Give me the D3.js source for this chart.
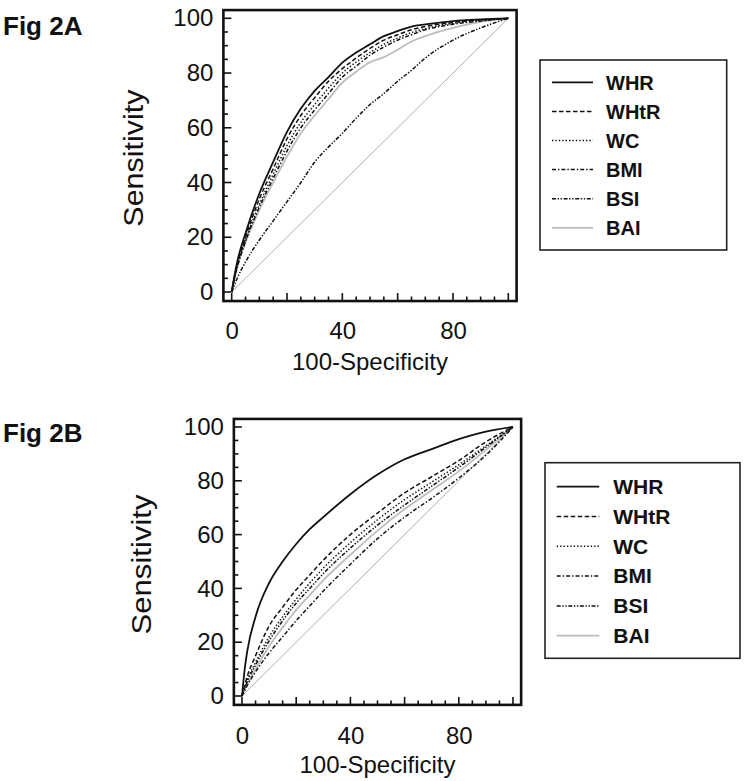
<!DOCTYPE html>
<html>
<head>
<meta charset="utf-8">
<script src="https://cdn.jsdelivr.net/npm/d3@7"></script>
<style>
  html, body { margin: 0; padding: 0; background: #fff; }
  svg { display: block; }
  text { font-family: "Liberation Sans", Arial, Helvetica, sans-serif; fill: #111; }
</style>
</head>
<body>
<svg id="chart" width="756" height="781"></svg>
<script>
// ---------- DATA ----------
const seriesNames = ["WHR", "WHtR", "WC", "BMI", "BSI", "BAI"];
const xTickLabels = [0, 40, 80];
const yTickLabels = [0, 20, 40, 60, 80, 100];

// Panel A (100-Specificity grid)
const fprA = [0, 1, 2, 5, 10, 15, 20, 25, 30, 35, 40, 45, 50, 55, 60, 65, 70, 80, 90, 100];
const whrA  = [0, 6, 11, 21.5, 36, 47.5, 58.5, 67, 73.5, 78.5, 83.8, 87.5, 90.5, 93.5, 95.3, 97, 97.8, 99, 99.6, 100];
const whtrA = [0, 5.5, 10, 20, 34, 45, 56, 64.5, 71, 77, 81.6, 85.5, 89, 92, 94, 95.8, 97, 98.5, 99.4, 100];
const wcA   = [0, 5, 9.5, 19, 32, 43, 53.5, 62, 68.5, 74.5, 80, 84, 87.5, 90.5, 92.8, 94.8, 96.2, 98.2, 99.2, 100];
const bmiA  = [0, 5, 9, 18.5, 31, 41.5, 51.5, 60, 66.5, 72.5, 78.5, 82.5, 86.5, 89.5, 92, 94, 95.8, 97.8, 99, 100];
const bsiA  = [0, 2.5, 5, 11, 19, 26, 33, 40, 47.5, 53, 58, 63.5, 68.5, 72.5, 77, 81, 85.5, 92, 96.5, 100];
const baiA  = [0, 5, 9, 18, 30, 40, 49.5, 58, 64.5, 70.5, 76.5, 80.5, 84, 85.8, 88.5, 91.5, 93.5, 96.5, 98.7, 100];

// Panel B
const fprB = [0, 1, 2, 5, 10, 15, 20, 25, 30, 40, 50, 60, 70, 80, 90, 100];
const whrB  = [0, 10, 17, 29.5, 42, 50, 56.5, 62, 66.5, 75, 82.3, 88, 91.8, 95.5, 98.3, 100];
const whtrB = [0, 4, 7.5, 15, 26, 33, 39.5, 45, 50.5, 60, 68, 75.5, 81.5, 87.5, 94.5, 100];
const wcB   = [0, 3, 6, 12.5, 22, 29.5, 36, 42, 47.5, 57, 65.5, 73, 79.5, 86, 93, 100];
const bmiB  = [0, 2, 4, 9, 16, 22, 28, 33.5, 39, 49, 58.5, 66.5, 73.5, 81, 89.5, 100];
const bsiB  = [0, 3, 5.5, 11.5, 20.5, 28, 34.5, 40, 45.5, 55, 63.5, 71, 78, 85, 92.5, 100];
const baiB  = [0, 2.5, 4.5, 10, 18.5, 25.5, 32, 37.5, 43, 52.5, 61.5, 69.5, 76.5, 83.5, 91.5, 100];

// ---------- STYLES ----------
const styles = {
  WHR:  { stroke: "#111", width: 1.8, dash: null },
  WHtR: { stroke: "#111", width: 1.5, dash: "4.5,2.5" },
  WC:   { stroke: "#111", width: 1.5, dash: "1.4,2" },
  BMI:  { stroke: "#111", width: 1.5, dash: "4,2,1.4,2" },
  BSI:  { stroke: "#111", width: 1.5, dash: "4,1.6,1.4,1.6,1.4,1.6" },
  BAI:  { stroke: "#bdbdbd", width: 1.8, dash: null }
};

const svg = d3.select("#chart");

function panel(cfg) {
  const x = d3.scaleLinear().domain([0, 100]).range(cfg.xr);
  const y = d3.scaleLinear().domain([0, 100]).range(cfg.yr);
  const g = svg.append("g");

  const bx0 = x(-3), bx1 = x(103), by0 = y(-3.3), by1 = y(103);

  // reference diagonal
  g.append("line")
    .attr("x1", x(0)).attr("y1", y(0)).attr("x2", x(100)).attr("y2", y(100))
    .attr("stroke", "#9a9a9a").attr("stroke-width", 0.8);

  // curves
  const line = d3.line().x(d => x(d[0])).y(d => y(d[1])).curve(d3.curveMonotoneX);
  const order = ["BAI", "BSI", "BMI", "WC", "WHtR", "WHR"];
  order.forEach(name => {
    const vals = cfg.series[name];
    const pts = cfg.fpr.map((f, i) => [f, vals[i]]);
    const st = styles[name];
    g.append("path").datum(pts)
      .attr("d", line)
      .attr("fill", "none")
      .attr("stroke", st.stroke)
      .attr("stroke-width", st.width)
      .attr("stroke-dasharray", st.dash)
      .attr("stroke-linejoin", "round");
  });

  // ticks inside box (every 5, major every 20)
  const tickVals = d3.range(0, 101, 5);
  tickVals.forEach(v => {
    const len = v % 20 === 0 ? 8 : 4.5;
    g.append("line").attr("x1", x(v)).attr("x2", x(v))
      .attr("y1", by0).attr("y2", by0 - len)
      .attr("stroke", "#111").attr("stroke-width", 1.6);
    g.append("line").attr("y1", y(v)).attr("y2", y(v))
      .attr("x1", bx0).attr("x2", bx0 + len)
      .attr("stroke", "#111").attr("stroke-width", 1.6);
  });

  // box
  g.append("rect")
    .attr("x", bx0).attr("y", by1)
    .attr("width", bx1 - bx0).attr("height", by0 - by1)
    .attr("fill", "none").attr("stroke", "#111").attr("stroke-width", 2.6);

  // tick labels via axes
  const xAxis = d3.axisBottom(x).tickValues(xTickLabels).tickSize(0).tickPadding(cfg.xPad);
  const xa = g.append("g").attr("transform", `translate(0,${by0})`).call(xAxis);
  xa.select(".domain").remove();
  xa.selectAll("text").attr("font-size", 24).attr("fill", "#111")
    .style("font-family", "'Liberation Sans', Arial, sans-serif");

  const yAxis = d3.axisLeft(y).tickValues(yTickLabels).tickSize(0).tickPadding(cfg.yPad);
  const ya = g.append("g").attr("transform", `translate(${bx0},0)`).call(yAxis);
  ya.select(".domain").remove();
  ya.selectAll("text").attr("font-size", 24).attr("fill", "#111")
    .style("font-family", "'Liberation Sans', Arial, sans-serif");

  // axis titles
  g.append("text")
    .attr("x", (x(0) + x(100)) / 2).attr("y", cfg.xTitleY)
    .attr("text-anchor", "middle").attr("font-size", 24)
    .text("100-Specificity");
  g.append("text")
    .attr("transform", `translate(${cfg.yTitleX},${(y(0) + y(100)) / 2 + 3}) rotate(-90)`)
    .attr("text-anchor", "middle").attr("font-size", 27)
    .attr("textLength", cfg.yTitleLen).attr("lengthAdjust", "spacingAndGlyphs")
    .text("Sensitivity");

  // fig label
  g.append("text").attr("x", 3).attr("y", cfg.figY)
    .attr("font-size", 26).attr("font-weight", "bold").text(cfg.fig);

  // legend
  const L = cfg.legend;
  g.append("rect").attr("x", L.x0).attr("y", L.y0)
    .attr("width", L.x1 - L.x0).attr("height", L.y1 - L.y0)
    .attr("fill", "none").attr("stroke", "#222").attr("stroke-width", 1.6);
  seriesNames.forEach((name, i) => {
    const st = styles[name];
    const ry = L.row0 + i * L.step;
    g.append("line").attr("x1", L.lx0).attr("x2", L.lx1)
      .attr("y1", ry).attr("y2", ry)
      .attr("stroke", st.stroke).attr("stroke-width", st.width)
      .attr("stroke-dasharray", st.dash);
    g.append("text").attr("x", L.tx).attr("y", ry + 7.3)
      .attr("font-size", L.fs).attr("font-weight", "bold").text(name);
  });
}

panel({
  fig: "Fig 2A", figY: 35,
  xr: [231.7, 508.3], yr: [292, 18.3],
  fpr: fprA,
  series: { WHR: whrA, WHtR: whtrA, WC: wcA, BMI: bmiA, BSI: bsiA, BAI: baiA },
  xPad: 21, yPad: 10, xTitleY: 370, yTitleX: 143, yTitleLen: 137,
  legend: { x0: 540, x1: 726.7, y0: 60, y1: 250, lx0: 552, lx1: 593, tx: 606, row0: 82.3, step: 29.1, fs: 20 }
});

panel({
  fig: "Fig 2B", figY: 442,
  xr: [242, 513], yr: [696, 427],
  fpr: fprB,
  series: { WHR: whrB, WHtR: whtrB, WC: wcB, BMI: bmiB, BSI: bsiB, BAI: baiB },
  xPad: 22, yPad: 10, xTitleY: 773, yTitleX: 151, yTitleLen: 140,
  legend: { x0: 545, x1: 740, y0: 462.7, y1: 658.3, lx0: 556.7, lx1: 599.3, tx: 613.3, row0: 486.7, step: 29.8, fs: 21 }
});
</script>
</body>
</html>
